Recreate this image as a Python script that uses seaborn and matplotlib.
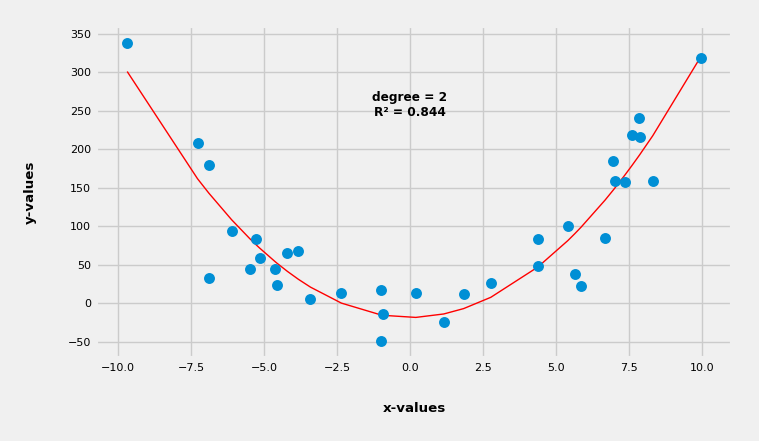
import numpy as np
import pandas as pd
import matplotlib
matplotlib.use("Agg")
import matplotlib.pyplot as plt
import seaborn as sns

x_values = [-9.69, -7.28, -6.89, -6.89, -6.11, -5.49, -5.26, -5.15, -4.61, -4.54,
            -4.20, -3.82, -3.41, -2.35, -0.99, -0.92, -0.99, 0.20, 1.16, 1.84,
            2.77, 4.38, 4.38, 5.41, 5.65, 5.86, 6.68, 6.95, 7.02, 7.36,
            7.60, 7.84, 7.88, 8.32, 9.97]
y_values = [338.0, 208.0, 179.5, 32.5, 93.6, 44.2, 83.2, 58.5, 44.2, 23.4,
            65.4, 68.0, 5.2, 13.0, 17.3, -14.3, -49.4, 13.0, -24.7, 11.7,
            26.0, 83.2, 48.1, 100.0, 37.7, 22.1, 84.5, 184.7, 158.6, 157.3,
            218.5, 240.6, 215.9, 158.6, 318.6]

DEGREE = 2
LABEL = "degree = 2\nR² = 0.844"

df = pd.DataFrame({"x": x_values, "y": y_values})

# quadratic fit drawn through the sorted x values
coefs = np.polyfit(df["x"], df["y"], DEGREE)
xs = np.sort(df["x"].values)
ys = np.polyval(coefs, xs)

plt.style.use("fivethirtyeight")
fig, ax = plt.subplots(figsize=(7.59, 4.41), dpi=100)
fig.patch.set_facecolor("#f0f0f0")
ax.set_facecolor("#f0f0f0")

sns.scatterplot(data=df, x="x", y="y", color="#008fd5", s=62, linewidth=0, ax=ax, zorder=3)
ax.plot(xs, ys, color="red", linewidth=1, zorder=2)
ax.margins(x=0.055, y=0.057)

ax.text(0, 258, LABEL, ha="center", va="center", fontsize=8.7, fontweight="bold")

ax.set_xlabel("x-values", fontsize=9.6, fontweight="bold", labelpad=21)
ax.set_ylabel("y-values", fontsize=9.6, fontweight="bold", labelpad=22)
ax.tick_params(axis="both", labelsize=8)
ax.grid(True, color="#cbcbcb", linewidth=1)

fig.subplots_adjust(left=0.126, right=0.965, bottom=0.188, top=0.941)
fig.savefig("out.png", dpi=100, facecolor=fig.get_facecolor())
